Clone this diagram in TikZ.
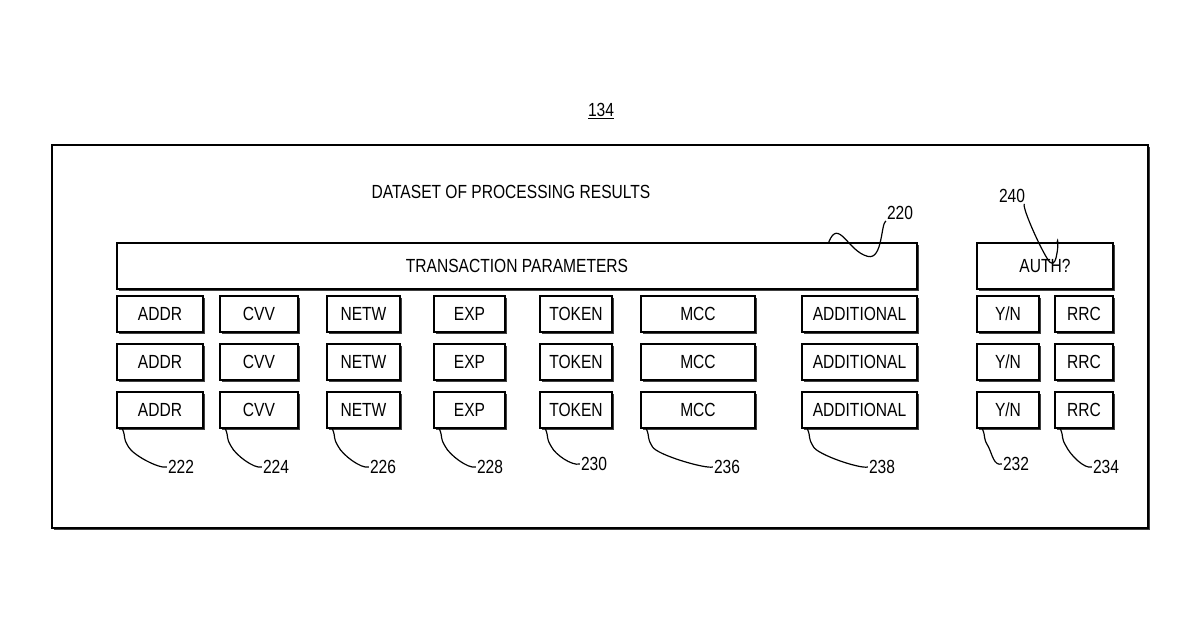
\documentclass[tikz,border=0pt]{standalone}
\usepackage{fontspec}
\setmainfont{Liberation Sans}
\usetikzlibrary{shadows}
\begin{document}
\begin{tikzpicture}[x=1pt,y=-1pt,
  box/.style={draw, line width=1.3pt, fill=white, inner sep=0pt,
    drop shadow={shadow xshift=1.6pt, shadow yshift=-1.6pt, opacity=1, fill=black!75},
    font=\fontsize{19}{22}\selectfont, xscale=1},
  lbl/.style={font=\fontsize{19}{22}\selectfont, inner sep=1pt},
  lead/.style={line width=1.2pt}]
\useasboundingbox (0,0) rectangle (1200,630);
\newcommand{\bx}[5]{\node[box, minimum width={#3-#2}, minimum height={#5}] (#1) at ({(#2+#3)/2},{#4+#5/2}) {\scalebox{0.85}[1]{#1text}};}
\newcommand{\mybox}[6]{\node[box, minimum width={#3-#2}, minimum height={#5}] (#1) at ({(#2+#3)/2},{#4+#5/2}) {\scalebox{0.82}[1]{#6}};}
% outer
\node[draw, line width=1.4pt, minimum width=1096, minimum height=383, inner sep=0pt,
  drop shadow={shadow xshift=1.6pt, shadow yshift=-1.6pt, opacity=1, fill=black!75}, fill=white] (outer) at (600,336.5) {};
\node[lbl] (n134) at (601,111) {\scalebox{0.82}[1]{\underline{134}}};
\node[lbl] (title) at (511,192) {\scalebox{0.82}[1]{DATASET OF PROCESSING RESULTS}};
\mybox{tp}{117}{917}{243}{46}{TRANSACTION PARAMETERS}
\mybox{auth}{977}{1113}{243}{46}{AUTH?}
\foreach \r/\y in {1/296,2/344,3/392}{
  \mybox{addr\r}{117}{203}{\y}{36}{ADDR}
  \mybox{cvv\r}{220}{298}{\y}{36}{CVV}
  \mybox{netw\r}{327}{400}{\y}{36}{NETW}
  \mybox{exp\r}{434}{505}{\y}{36}{EXP}
  \mybox{token\r}{540}{612}{\y}{36}{TOKEN}
  \mybox{mcc\r}{641}{755}{\y}{36}{MCC}
  \mybox{add\r}{802}{917}{\y}{36}{ADDITIONAL}
  \mybox{yn\r}{977}{1039}{\y}{36}{Y/N}
  \mybox{rrc\r}{1055}{1113}{\y}{36}{RRC}
}
\foreach \n/\lab/\lx/\ly in {addr3/222/181/467, cvv3/224/276/467, netw3/226/383/467, exp3/228/490/467,
  token3/230/594/464, mcc3/236/727/467, add3/238/882/467, yn3/232/1016/464, rrc3/234/1106/467}{
  \node[lbl] (L\lab) at (\lx,\ly) {\scalebox{0.82}[1]{\lab}};
  \draw[lead] ([xshift=6pt]\n.south west) .. controls +(4,10) and +(-6,-10) .. ([xshift=12pt,yshift=-18pt]\n.south west)
     .. controls +(4,8) and +(-8,2) .. (L\lab.west);
}
\node[lbl] (L220) at (900,213) {\scalebox{0.82}[1]{220}};
\draw[lead] ([xshift=-89pt]tp.north east) .. controls +(10,-25) and +(-20,-5) .. ([xshift=-50pt,yshift=-14pt]tp.north east)
  .. controls +(15,4) and +(-5,3) .. (L220.south west);
\node[lbl] (L240) at (1012,196) {\scalebox{0.82}[1]{240}};
\draw[lead] ([xshift=12pt]auth.north) .. controls +(2,-10) and +(8,8) .. ([xshift=5pt,yshift=-20pt]auth.north)
  .. controls +(-6,-6) and +(-2,5) .. ([xshift=-2pt]L240.south east);
\end{tikzpicture}
\end{document}
